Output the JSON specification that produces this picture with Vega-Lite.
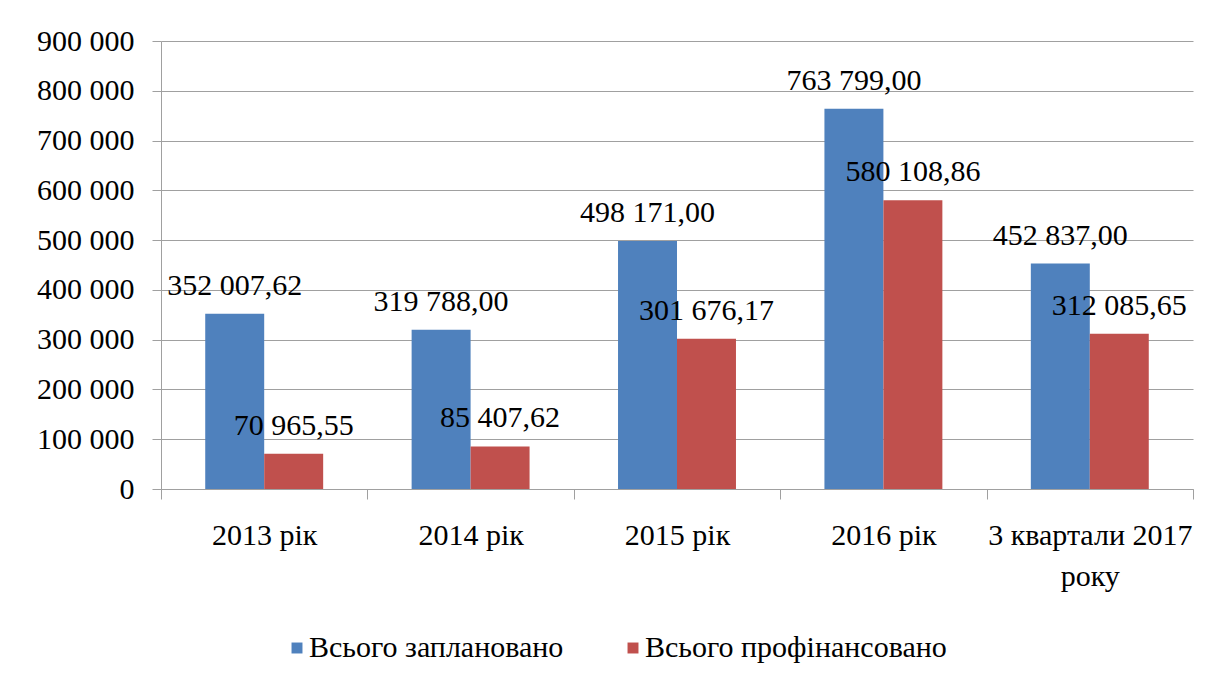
{
  "$schema": "https://vega.github.io/schema/vega-lite/v6.json",
  "width": 1032,
  "height": 448,
  "autosize": {"type": "none"},
  "padding": {"left": 161, "top": 41, "right": 22, "bottom": 192},
  "background": "white",
  "config": {
    "locale": {"number": {"decimal": ",", "thousands": " ", "grouping": [3], "currency": ["", ""]}},
    "font": "Liberation Serif",
    "view": {"stroke": null},
    "axis": {"labelFont": "Liberation Serif", "labelFontSize": 30, "labelColor": "#000000", "labelLimit": 0}
  },
  "data": {
    "values": [
      {"category": "2013 рік", "series": "Всього заплановано", "value": 352007.62},
      {"category": "2013 рік", "series": "Всього профінансовано", "value": 70965.55},
      {"category": "2014 рік", "series": "Всього заплановано", "value": 319788.00},
      {"category": "2014 рік", "series": "Всього профінансовано", "value": 85407.62},
      {"category": "2015 рік", "series": "Всього заплановано", "value": 498171.00},
      {"category": "2015 рік", "series": "Всього профінансовано", "value": 301676.17},
      {"category": "2016 рік", "series": "Всього заплановано", "value": 763799.00},
      {"category": "2016 рік", "series": "Всього профінансовано", "value": 580108.86},
      {"category": "3 квартали 2017 року", "series": "Всього заплановано", "value": 452837.00},
      {"category": "3 квартали 2017 року", "series": "Всього профінансовано", "value": 312085.65}
    ]
  },
  "encoding": {
    "x": {
      "field": "category", "type": "nominal", "sort": null,
      "scale": {"paddingInner": 0, "paddingOuter": 0},
      "axis": {
        "title": null, "labelAngle": 0, "tickBand": "extent", "tickSize": 10,
        "tickColor": "#a0a0a0", "domainColor": "#a0a0a0", "labelPadding": 21,
        "labelLineHeight": 41,
        "labelExpr": "datum.label == '3 квартали 2017 року' ? ['3 квартали 2017', 'року'] : datum.label"
      }
    },
    "xOffset": {"field": "series", "type": "nominal", "sort": null, "scale": {"paddingInner": 0, "paddingOuter": 0.75}},
    "y": {
      "field": "value", "type": "quantitative",
      "scale": {"domain": [0, 900000], "nice": false},
      "axis": {
        "title": null, "values": [0, 100000, 200000, 300000, 400000, 500000, 600000, 700000, 800000, 900000],
        "format": ",d", "tickSize": 9, "tickColor": "#a0a0a0", "domainColor": "#a0a0a0",
        "gridColor": "#a0a0a0", "labelPadding": 18
      }
    }
  },
  "layer": [
    {
      "mark": {"type": "bar"},
      "encoding": {
        "color": {
          "field": "series", "type": "nominal", "sort": null,
          "scale": {"domain": ["Всього заплановано", "Всього профінансовано"], "range": ["#4f81bd", "#c0504d"]},
          "legend": {
            "title": null, "orient": "none", "direction": "horizontal",
            "legendX": 121, "legendY": 592,
            "symbolType": "square", "symbolSize": 120, "symbolStrokeWidth": 0,
            "labelFont": "Liberation Serif", "labelFontSize": 30, "labelColor": "#000000",
            "labelLimit": 0, "columnPadding": 54, "labelOffset": -3
          }
        }
      }
    },
    {
      "mark": {"type": "text", "baseline": "alphabetic", "dy": -19, "fontSize": 30, "font": "Liberation Serif", "color": "#000000"},
      "encoding": {
        "text": {"field": "value", "type": "quantitative", "format": ",.2f"}
      }
    }
  ]
}
